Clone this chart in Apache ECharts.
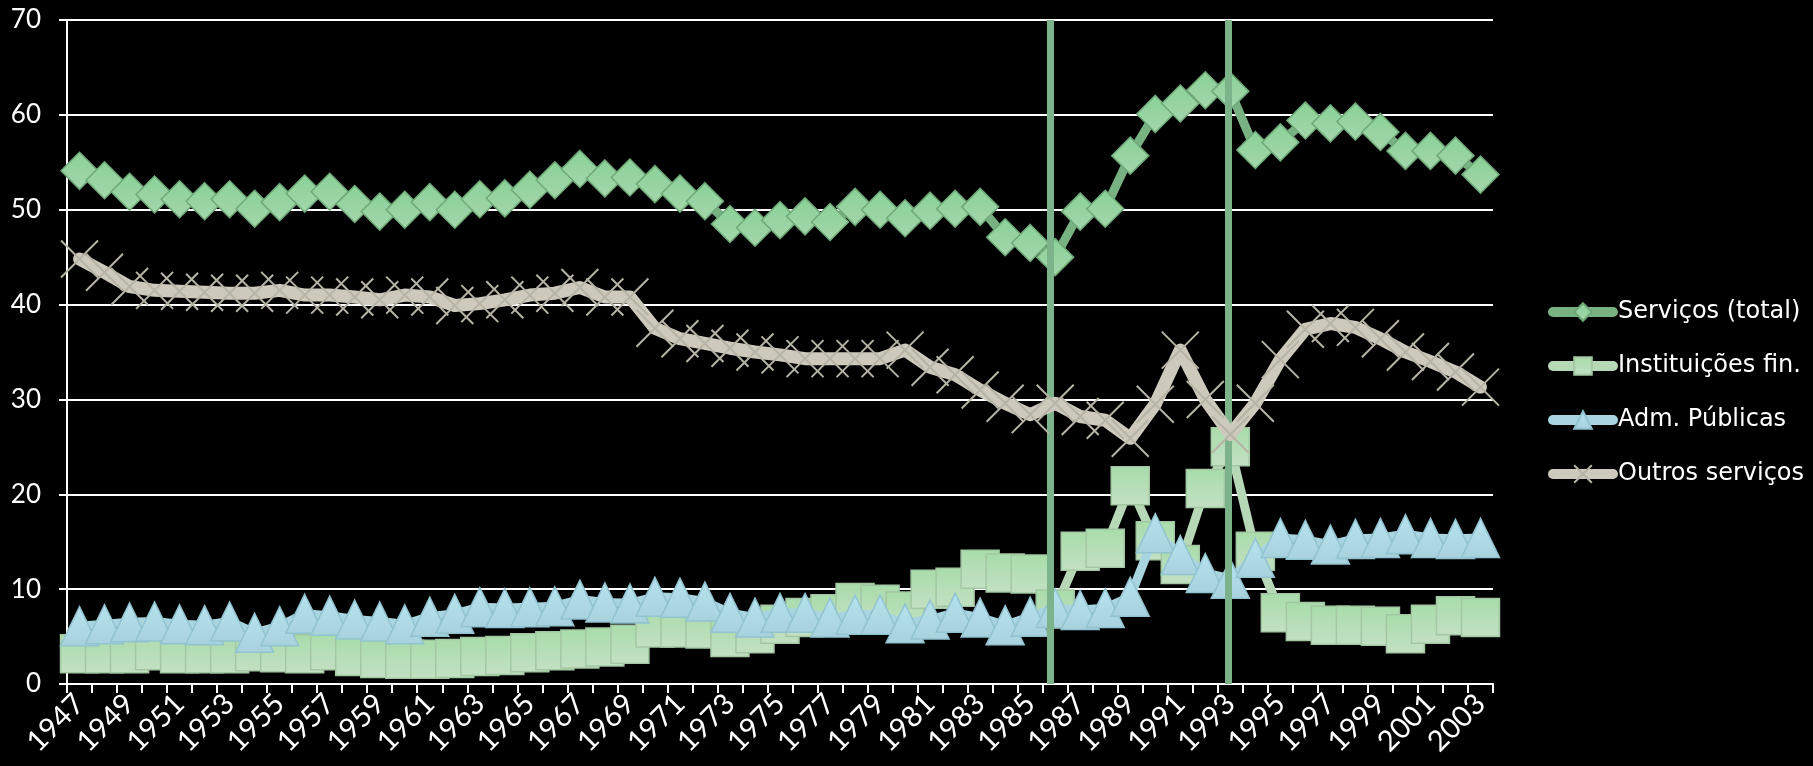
<!DOCTYPE html>
<html>
<head>
<meta charset="utf-8">
<title>Serviços 1947-2003</title>
<script src="https://cdn.jsdelivr.net/npm/echarts@6/dist/echarts.min.js"></script>
<style>
  html, body { margin: 0; padding: 0; background: #000; }
  #chart { width: 1813px; height: 766px; }
</style>
</head>
<body>
<div id="chart"></div>
<script>
// Categories: one per year
const years = ['1947','1948','1949','1950','1951','1952','1953','1954','1955','1956',
  '1957','1958','1959','1960','1961','1962','1963','1964','1965','1966',
  '1967','1968','1969','1970','1971','1972','1973','1974','1975','1976',
  '1977','1978','1979','1980','1981','1982','1983','1984','1985','1986',
  '1987','1988','1989','1990','1991','1992','1993','1994','1995','1996',
  '1997','1998','1999','2000','2001','2002','2003'];

// Shares (%) by sector
const servicosTotal = [54.1,53.1,51.9,51.6,51.1,50.9,51.1,50.1,50.8,51.7,
  51.9,50.6,49.8,50.0,50.8,50.0,51.1,51.2,52.1,53.1,
  54.3,53.3,53.4,52.7,51.7,50.9,48.5,48.1,48.9,49.3,
  48.7,50.3,50.0,49.1,49.9,50.1,50.3,47.1,46.5,45.0,
  49.8,50.1,55.7,60.1,61.2,62.6,62.5,56.3,57.1,59.4,
  59.1,59.3,58.2,56.2,56.2,55.7,53.7];

const instituicoesFin = [3.2,3.2,3.2,3.5,3.2,3.2,3.2,3.4,3.3,3.2,
  3.5,2.9,2.7,2.6,2.6,2.7,2.9,3.0,3.3,3.5,
  3.7,3.9,4.2,5.9,5.9,5.8,4.9,5.3,6.3,7.0,
  7.4,8.6,8.4,7.7,10.0,10.2,12.1,11.7,11.6,7.9,
  14.0,14.3,20.9,15.1,12.6,20.6,25.0,14.0,7.5,6.6,
  6.2,6.2,6.1,5.3,6.3,7.2,7.0];

const admPublicas = [6.1,6.3,6.5,6.6,6.3,6.2,6.6,5.4,6.1,7.4,
  7.2,6.8,6.6,6.3,7.1,7.4,8.1,8.0,8.1,8.2,
  8.9,8.6,8.5,9.2,9.1,8.7,7.5,7.0,7.5,7.5,
  7.0,7.3,7.3,6.4,6.8,7.5,7.0,6.2,7.1,8.0,
  7.8,8.0,9.2,15.9,13.6,11.7,11.1,13.3,15.4,15.2,
  14.7,15.3,15.4,15.8,15.4,15.3,15.4];

const outrosServicos = [44.8,43.4,41.9,41.5,41.4,41.3,41.2,41.2,41.5,41.0,
  41.0,40.8,40.5,41.0,40.8,39.9,40.1,40.5,41.0,41.2,
  41.8,40.8,40.8,37.5,36.4,35.9,35.4,35.0,34.7,34.3,
  34.3,34.3,34.3,35.2,33.4,32.6,31.0,29.6,28.4,29.6,
  28.2,27.8,25.9,29.5,35.2,30.0,26.3,29.6,34.2,37.4,
  38.0,37.6,36.4,35.0,34.0,32.9,31.3];

// Vertical reference lines (year position on a continuous scale)
const breakYears = [1985.8, 1992.9];

const seriesNames = ['Serviços (total)', 'Instituições fin.', 'Adm. Públicas', 'Outros serviços'];

const AXIS_FONT = 'Lato, "Open Sans", sans-serif';
const LEGEND_FONT = '"DejaVu Sans", Lato, sans-serif';

function vgrad(top, bottom) {
  return new echarts.graphic.LinearGradient(0, 0, 0, 1, [
    { offset: 0, color: top },
    { offset: 1, color: bottom }
  ]);
}

const chart = echarts.init(document.getElementById('chart'), null, { renderer: 'canvas' });

const option = {
  backgroundColor: '#000',
  animation: false,
  grid: { left: 67, right: 320, top: 20, bottom: 82 },
  xAxis: [
    {
      type: 'category',
      data: years,
      boundaryGap: true,
      axisLine: { lineStyle: { color: '#fff', width: 2 } },
      axisTick: { show: true, interval: 0, length: 9, lineStyle: { color: '#fff', width: 2 } },
      axisLabel: { interval: 1, rotate: 45, color: '#fff', fontFamily: AXIS_FONT, fontSize: 29, margin: 15 },
      splitLine: { show: false }
    },
    { type: 'value', min: 1946.5, max: 2003.5, show: false }
  ],
  yAxis: {
    type: 'value',
    min: 0,
    max: 70,
    interval: 10,
    axisLine: { show: true, lineStyle: { color: '#fff', width: 2 } },
    axisTick: { show: true, length: 8, lineStyle: { color: '#fff', width: 2 } },
    axisLabel: { color: '#fff', fontFamily: AXIS_FONT, fontSize: 26, margin: 26 },
    splitLine: { lineStyle: { color: '#fff', width: 2 } }
  },
  legend: {
    orient: 'vertical',
    left: 1543,
    top: 293,
    itemWidth: 60,
    itemHeight: 22,
    itemGap: 26,
    data: seriesNames,
    lineStyle: { width: 10, cap: 'round' },
    textStyle: { color: '#fff', fontFamily: LEGEND_FONT, fontSize: 24, lineHeight: 28 }
  },
  series: [
    {
      name: seriesNames[0],
      type: 'line',
      data: servicosTotal,
      z: 2,
      showAllSymbol: true,
      symbol: 'diamond',
      symbolSize: [37, 37],
      lineStyle: { color: '#78b282', width: 9, cap: 'round', join: 'round' },
      itemStyle: { color: vgrad('#8ad198', '#a4d6ab'), borderColor: '#6fa97a', borderWidth: 1.5 }
    },
    {
      name: seriesNames[1],
      type: 'line',
      data: instituicoesFin,
      z: 3,
      showAllSymbol: true,
      symbol: 'rect',
      symbolSize: [38, 38],
      lineStyle: { color: '#b6d8b6', width: 9, cap: 'round', join: 'round' },
      itemStyle: { color: vgrad('#a8dcaa', '#c3e0c3'), borderColor: '#a3c7a3', borderWidth: 1.5 }
    },
    {
      name: seriesNames[2],
      type: 'line',
      data: admPublicas,
      z: 4,
      showAllSymbol: true,
      symbol: 'triangle',
      symbolSize: [38, 39],
      lineStyle: { color: '#a9d5e0', width: 9, cap: 'round', join: 'round' },
      itemStyle: { color: vgrad('#b6e3ef', '#a7d1dd'), borderColor: '#92c3d0', borderWidth: 1.5 }
    },
    {
      name: seriesNames[3],
      type: 'line',
      data: outrosServicos,
      z: 5,
      showAllSymbol: true,
      symbol: 'path://M0,0L20,20M20,0L0,20',
      symbolSize: [37, 37],
      lineStyle: { color: '#cdcabd', width: 13, cap: 'round', join: 'round' },
      itemStyle: { color: '#cdcabd', borderColor: '#b6b4a6', borderWidth: 2 }
    },
    {
      type: 'line',
      xAxisIndex: 1,
      yAxisIndex: 0,
      data: [],
      z: 10,
      silent: true,
      markLine: {
        silent: true,
        symbol: 'none',
        label: { show: false },
        lineStyle: { color: '#7db38a', width: 7, type: 'solid' },
        data: breakYears.map(function (v) { return { xAxis: v }; })
      }
    }
  ]
};

chart.setOption(option);
</script>
</body>
</html>
